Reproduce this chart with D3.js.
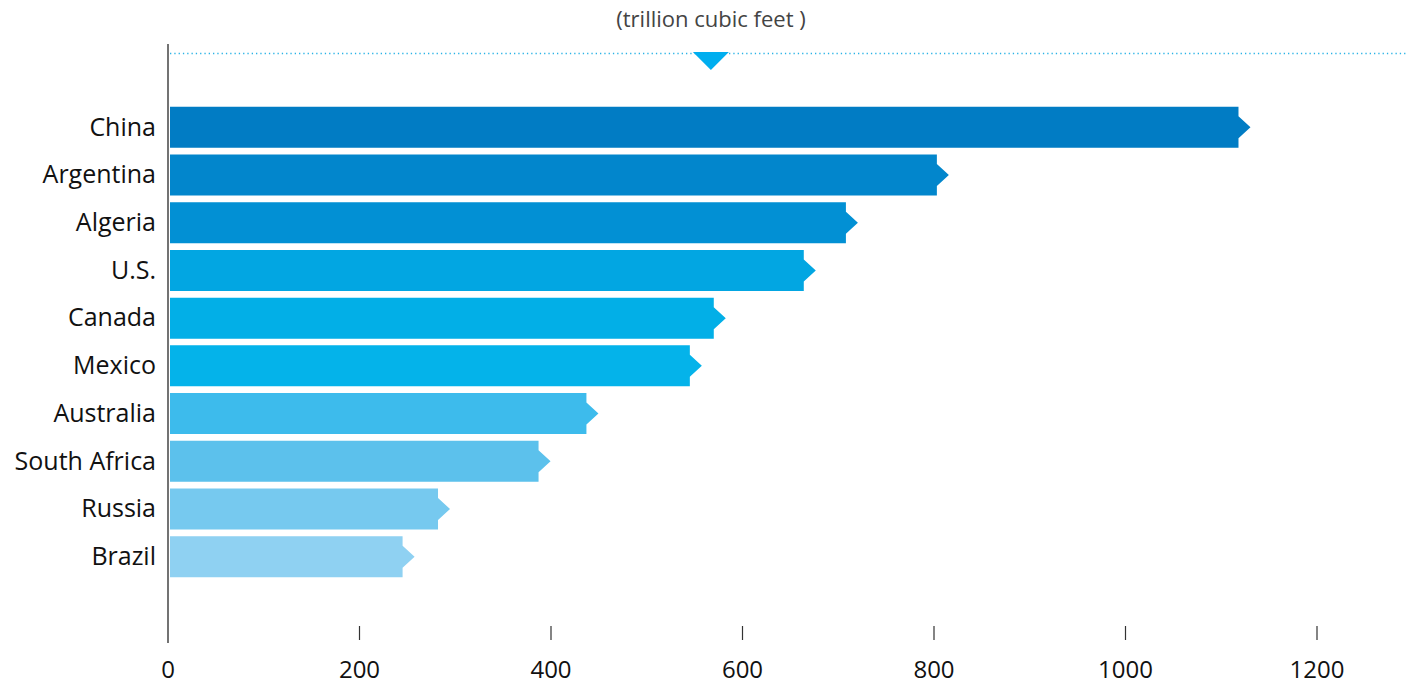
<!DOCTYPE html>
<html>
<head>
    <meta charset="utf-8">
    <title>Shale gas reserves</title>
    <script src="https://d3js.org/d3.v7.min.js"></script>
</head>
<body style="margin:0;background:#fff">
    <script>
        const [width, height] = [1412, 685]

        // data
        const countries = ["China", "Argentina", "Algeria", "U.S.", "Canada", "Mexico", "Australia", "South Africa", "Russia", "Brazil"];
        const reserves = [1118, 803, 708, 664, 570, 545, 437, 387, 282, 245];
        const barColors = ["#017cc4", "#0286cc", "#0290d4", "#02a6e2", "#02afe7", "#04b3ea", "#3dbbec", "#5cc1ec", "#76c9ef", "#8fd1f2"];
        const tickValues = [0, 200, 400, 600, 800, 1000, 1200];
        const markerValue = 567;
        const unitLabel = "(trillion cubic feet )";

        const rows = countries.map((c, i) => ({name: c, value: reserves[i], color: barColors[i]}));

        const x = d3.scaleLinear().domain([0, 1200]).range([168, 1317]);
        const y = d3.scaleBand().domain(countries).range([103.5, 580.5])
            .paddingInner(0.14).paddingOuter(0.07);

        const svg = d3.select("body")
            .append("svg")
            .attr("width", width)
            .attr("height", height)
            .style("font-family", "Open Sans");

        // unit title
        svg.append("text")
            .attr("x", 711)
            .attr("y", 27)
            .attr("text-anchor", "middle")
            .style("font-size", "22px")
            .style("fill", "#444")
            .text(unitLabel);

        // dotted reference line
        svg.append("line")
            .attr("x1", 170).attr("x2", 1406)
            .attr("y1", 53.5).attr("y2", 53.5)
            .style("stroke", "#2ab3e6")
            .style("stroke-width", 1.3)
            .style("stroke-dasharray", "1.3,3");

        // marker triangle
        const mx = x(markerValue);
        svg.append("path")
            .attr("d", `M${mx - 18},52 L${mx + 18},52 L${mx},70 Z`)
            .style("fill", "#00aeef");

        // bars: rect + arrow tip
        const bar = svg.selectAll("g.bar")
            .data(rows)
            .enter()
            .append("g")
            .attr("class", "bar");

        bar.append("path")
            .attr("d", d => {
                const x0 = x(0) + 2, x1 = x(d.value);
                const y0 = y(d.name), h = y.bandwidth(), ym = y0 + h / 2;
                return `M${x0},${y0} H${x1} V${ym - 11} L${x1 + 12},${ym} L${x1},${ym + 11} V${y0 + h} H${x0} Z`;
            })
            .style("fill", d => d.color);

        // country labels
        svg.selectAll("text.label")
            .data(rows)
            .enter()
            .append("text")
            .attr("class", "label")
            .attr("x", 156)
            .attr("y", d => y(d.name) + y.bandwidth() / 2)
            .attr("dy", "0.33em")
            .attr("text-anchor", "end")
            .style("font-size", "25px")
            .style("fill", "#111")
            .text(d => d.name);

        // vertical axis line
        svg.append("line")
            .attr("x1", 168).attr("x2", 168)
            .attr("y1", 44).attr("y2", 643)
            .style("stroke", "#444")
            .style("stroke-width", 1.5);

        // x ticks
        svg.selectAll("line.tick")
            .data(tickValues.slice(1))
            .enter()
            .append("line")
            .attr("class", "tick")
            .attr("x1", d => x(d)).attr("x2", d => x(d))
            .attr("y1", 626).attr("y2", 640)
            .style("stroke", "#333")
            .style("stroke-width", 1.2);

        svg.selectAll("text.tick")
            .data(tickValues)
            .enter()
            .append("text")
            .attr("class", "tick")
            .attr("x", d => x(d))
            .attr("y", 678)
            .attr("text-anchor", "middle")
            .style("font-size", "24px")
            .style("fill", "#111")
            .text(d => d);
    </script>
</body>
</html>
